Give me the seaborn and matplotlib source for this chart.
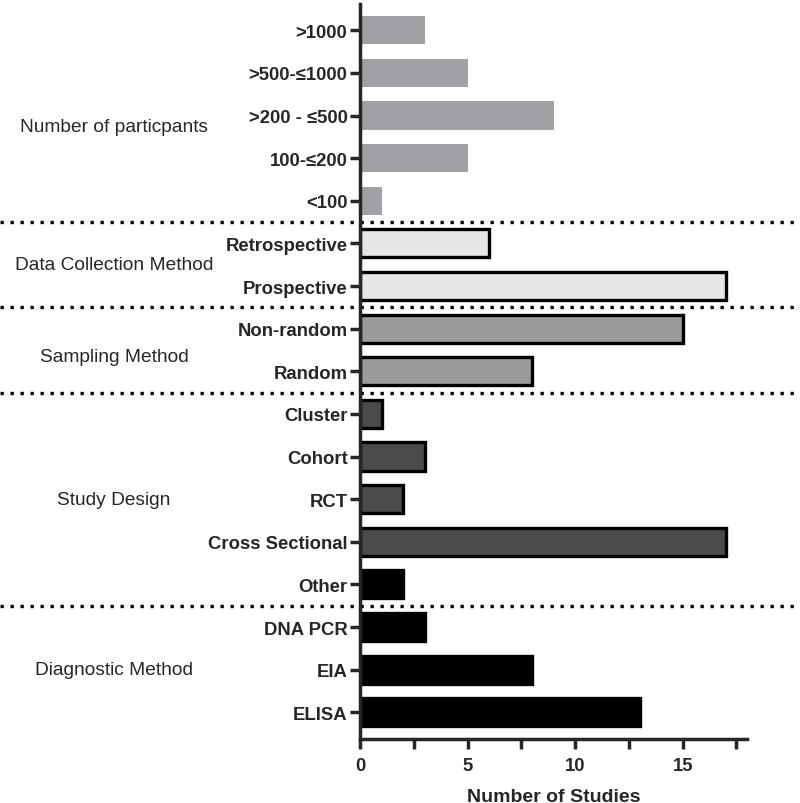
import matplotlib
matplotlib.use('Agg')
import matplotlib.pyplot as plt
import seaborn as sns
import pandas as pd
from matplotlib.ticker import MultipleLocator

# categories, top to bottom
categories = ['>1000', '>500-≤1000', '>200 - ≤500', '100-≤200', '<100',
              'Retrospective', 'Prospective',
              'Non-random', 'Random',
              'Cluster', 'Cohort', 'RCT', 'Cross Sectional', 'Other',
              'DNA PCR', 'EIA', 'ELISA']
studies = [3, 5, 9, 5, 1,
           6, 17,
           15, 8,
           1, 3, 2, 17, 2,
           3, 8, 13]
fill_colors = ['#a1a1a5'] * 5 + ['#e6e6e6'] * 2 + ['#9b9b9b'] * 2 + \
              ['#4b4b4b'] * 4 + ['#000000'] * 4
has_edge = [False] * 5 + [True] * 12

group_names = ['Number of particpants', 'Data Collection Method', 'Sampling Method',
               'Study Design', 'Diagnostic Method']
group_label_pos = [2.25, 5.5, 7.65, 11.0, 15.0]
separators = [4.5, 6.5, 8.5, 13.5]

df = pd.DataFrame({'category': categories, 'studies': studies})

sns.set_style('ticks')
plt.rcParams['font.family'] = ['Liberation Sans', 'DejaVu Sans']

fig = plt.figure(figsize=(8, 8.04), dpi=100)
ax = fig.add_axes([0.45, 0.08, 0.484, 0.914])

sns.barplot(data=df, x='studies', y='category', hue='category', palette=fill_colors,
            legend=False, orient='h', width=0.66, ax=ax, saturation=1)

for patch, edge in zip(ax.patches, has_edge):
    if edge:
        patch.set_edgecolor('black')
        patch.set_linewidth(2.4)
    else:
        patch.set_linewidth(0)

ax.set_xlim(0, 18)
ax.set_ylim(len(categories) - 0.38, -0.62)
ax.xaxis.set_major_locator(MultipleLocator(5))
ax.xaxis.set_minor_locator(MultipleLocator(2.5))

for side in ['top', 'right']:
    ax.spines[side].set_visible(False)
for side in ['left', 'bottom']:
    ax.spines[side].set_linewidth(2.5)

ax.tick_params(axis='both', which='major', width=2.5, length=7, labelsize=13.3)
ax.tick_params(axis='x', which='minor', width=2.5, length=7)
ax.tick_params(axis='x', which='major', pad=6)
ax.tick_params(axis='y', which='major', pad=2)
for lbl in ax.get_xticklabels() + ax.get_yticklabels():
    lbl.set_fontweight('bold')

ax.set_ylabel('')
ax.set_xlabel('Number of Studies', fontsize=14, fontweight='bold', labelpad=10)

# dotted separators spanning the full figure width
x0 = -0.45 / 0.484
x1 = (1 - 0.45) / 0.484
for y in separators:
    ax.axhline(y, xmin=x0, xmax=x1, color='black', linestyle=(0, (1, 2)),
               linewidth=2.4, clip_on=False)

# group labels on the left
for name, pos in zip(group_names, group_label_pos):
    ax.text(-0.635, pos, name, transform=ax.get_yaxis_transform(), ha='center',
            va='center', fontsize=13.8)

fig.savefig('out.png', dpi=100)
